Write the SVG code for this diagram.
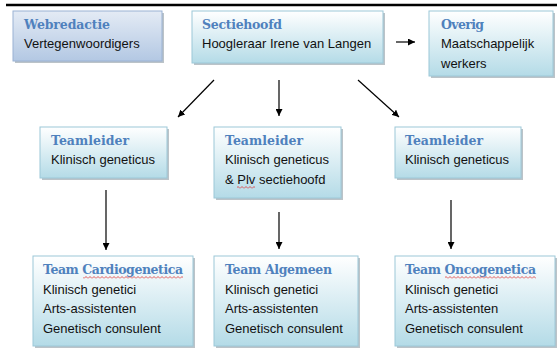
<svg xmlns="http://www.w3.org/2000/svg" width="557" height="352" viewBox="0 0 557 352">
<defs>
<linearGradient id="gBlue" x1="0" y1="0" x2="0" y2="1"><stop offset="0" stop-color="#e4ebf5"/><stop offset="1" stop-color="#b3c8e3"/></linearGradient>
<linearGradient id="gTeal" x1="0" y1="0" x2="0" y2="1"><stop offset="0" stop-color="#ffffff"/><stop offset="1" stop-color="#b4dbe7"/></linearGradient>
<pattern id="wave" x="0" y="0" width="4" height="3" patternUnits="userSpaceOnUse"><path d="M0,2.5 L2,0.5 L4,2.5" fill="none" stroke="#e03030" stroke-width="0.8"/></pattern>
<marker id="arr" viewBox="0 0 10 10" refX="10" refY="5" markerWidth="7" markerHeight="7" markerUnits="userSpaceOnUse" orient="auto"><path d="M0,0 L10,5 L0,10 z" fill="#000"/></marker>
<style>
.sh{fill:#9ea9b0;opacity:0.7}
.bx{stroke:#9cc8d8;stroke-width:1}
.bb{stroke:#9ab2d4;stroke-width:1}
.t{font-family:"DejaVu Serif","Liberation Serif",serif;font-weight:bold;font-size:12.5px;fill:#4f81bd}
.b{font-family:"Liberation Sans",Arial,sans-serif;font-size:13px;fill:#111}
.c{stroke:#000;stroke-width:1.2;fill:none}
.sq{fill:url(#wave)}
</style>
</defs>
<line x1="6" y1="5" x2="557" y2="5" stroke="#000" stroke-width="2.5"/>
<g id="webredactie">
<rect class="sh" x="15" y="13" width="149" height="50"/>
<rect class="bb" x="13" y="11" width="149" height="50" fill="url(#gBlue)"/>
<text class="t" x="24" y="29" textLength="86">Webredactie</text>
<text class="b" x="24" y="48">Vertegenwoordigers</text>
</g>
<g id="sectiehoofd">
<rect class="sh" x="194" y="13" width="191" height="52"/>
<rect class="bx" x="192" y="11" width="191" height="52" fill="url(#gTeal)"/>
<text class="t" x="202" y="29" textLength="80">Sectiehoofd</text>
<text class="b" x="202" y="48">Hoogleraar Irene van Langen</text>
</g>
<g id="overig">
<rect class="sh" x="431" y="13" width="124" height="65"/>
<rect class="bx" x="429" y="11" width="124" height="65" fill="url(#gTeal)"/>
<text class="t" x="441" y="29" textLength="43">Overig</text>
<text class="b" x="441" y="48">Maatschappelijk</text>
<text class="b" x="441" y="68">werkers</text>
</g>
<g id="teamleider-links">
<rect class="sh" x="42" y="129" width="127" height="51"/>
<rect class="bx" x="40" y="127" width="127" height="51" fill="url(#gTeal)"/>
<text class="t" x="51" y="145" textLength="78">Teamleider</text>
<text class="b" x="51" y="164">Klinisch geneticus</text>
</g>
<g id="teamleider-midden">
<rect class="sh" x="216" y="129" width="127" height="71"/>
<rect class="bx" x="214" y="127" width="127" height="71" fill="url(#gTeal)"/>
<text class="t" x="225" y="145" textLength="78">Teamleider</text>
<text class="b" x="225" y="164">Klinisch geneticus</text>
<text class="b" x="225" y="184">&amp; Plv sectiehoofd</text>
<rect class="sq" x="237" y="186" width="18" height="3"/>
</g>
<g id="teamleider-rechts">
<rect class="sh" x="397" y="129" width="126" height="51"/>
<rect class="bx" x="395" y="127" width="126" height="51" fill="url(#gTeal)"/>
<text class="t" x="405" y="145" textLength="78">Teamleider</text>
<text class="b" x="405" y="164">Klinisch geneticus</text>
</g>
<g id="team-cardiogenetica">
<rect class="sh" x="35" y="258" width="160" height="90"/>
<rect class="bx" x="33" y="256" width="160" height="90" fill="url(#gTeal)"/>
<text class="t" x="43" y="274" textLength="140">Team Cardiogenetica</text>
<rect class="sq" x="83" y="276" width="100" height="3"/>
<text class="b" x="43" y="294">Klinisch genetici</text>
<text class="b" x="43" y="313">Arts-assistenten</text>
<text class="b" x="43" y="333">Genetisch consulent</text>
</g>
<g id="team-algemeen">
<rect class="sh" x="216" y="258" width="144" height="90"/>
<rect class="bx" x="214" y="256" width="144" height="90" fill="url(#gTeal)"/>
<text class="t" x="225" y="274" textLength="107">Team Algemeen</text>
<text class="b" x="225" y="294">Klinisch genetici</text>
<text class="b" x="225" y="313">Arts-assistenten</text>
<text class="b" x="225" y="333">Genetisch consulent</text>
</g>
<g id="team-oncogenetica">
<rect class="sh" x="397" y="258" width="160" height="90"/>
<rect class="bx" x="395" y="256" width="160" height="90" fill="url(#gTeal)"/>
<text class="t" x="405" y="274" textLength="131">Team Oncogenetica</text>
<rect class="sq" x="445" y="276" width="91" height="3"/>
<text class="b" x="405" y="294">Klinisch genetici</text>
<text class="b" x="405" y="313">Arts-assistenten</text>
<text class="b" x="405" y="333">Genetisch consulent</text>
</g>
<g id="connectors">
<line class="c" x1="396" y1="42" x2="415" y2="42" marker-end="url(#arr)"/>
<line class="c" x1="214" y1="80" x2="178" y2="117" marker-end="url(#arr)"/>
<line class="c" x1="279" y1="80" x2="279" y2="116" marker-end="url(#arr)"/>
<line class="c" x1="358" y1="80" x2="399" y2="117" marker-end="url(#arr)"/>
<line class="c" x1="106" y1="190" x2="106" y2="250" marker-end="url(#arr)"/>
<line class="c" x1="279" y1="212" x2="279" y2="249" marker-end="url(#arr)"/>
<line class="c" x1="451" y1="200" x2="451" y2="249" marker-end="url(#arr)"/>
</g>
</svg>
